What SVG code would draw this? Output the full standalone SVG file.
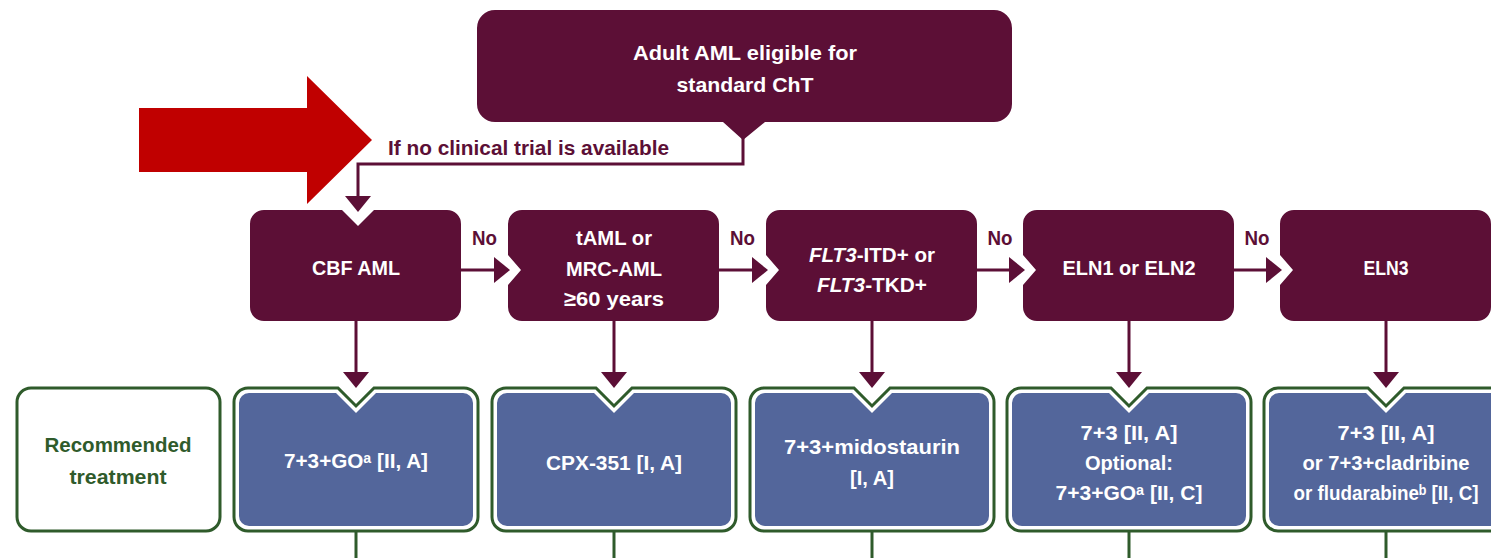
<svg xmlns="http://www.w3.org/2000/svg" xmlns:xlink="http://www.w3.org/1999/xlink" width="1491" height="558" viewBox="0 0 1491 558">
<style>
.t{font-family:"Liberation Sans Narrow","Liberation Sans","DejaVu Sans",Arial,sans-serif;font-weight:bold;font-size:21px;text-anchor:middle}
.w{fill:#ffffff}
.m{fill:#5c0f36}
.g{fill:#2f5b2b}
.mbox{fill:#5c0f36}
.tout{fill:#ffffff;stroke:#2f5b2b;stroke-width:3}
.tin{fill:#53669b}
.conn{fill:none;stroke:#5c0f36;stroke-width:3;marker-end:url(#ah)}
.gl{stroke:#2f5b2b;stroke-width:3}
</style>
<defs>
<marker id="ah" markerUnits="userSpaceOnUse" markerWidth="16" markerHeight="26" viewBox="0 0 16 26" refX="13" refY="13" orient="auto">
<path d="M0,0 L16,13 L0,26 Z" fill="#5c0f36"/>
</marker>
<path id="chev" d="M14,210 H197 A14,14 0 0 1 211,224 V307 A14,14 0 0 1 197,321 H14 A14,14 0 0 1 0,307 V285 L13,270 L0,255 V224 A14,14 0 0 1 14,210 Z"/>
<path id="tOuter" d="M-108,388 H-18 L0,406 L18,388 H108 A14,14 0 0 1 122,402 V517 A14,14 0 0 1 108,531 H-108 A14,14 0 0 1 -122,517 V402 A14,14 0 0 1 -108,388 Z"/>
<path id="tInner" d="M-107,393 H-20 L0,413 L20,393 H107 A10,10 0 0 1 117,403 V516 A10,10 0 0 1 107,526 H-107 A10,10 0 0 1 -117,516 V403 A10,10 0 0 1 -107,393 Z"/>
</defs>
<rect width="1491" height="558" fill="#ffffff"/>

<g id="red-arrow">
<polygon points="139,108 307,108 307,76 372,140 307,204 307,172 139,172" fill="#c00000"/>
</g>

<g id="connectors">
<path class="conn" d="M743,138 V164 H358 V209"/>
<text class="t m" x="388" y="155" style="text-anchor:start" textLength="281" lengthAdjust="spacingAndGlyphs">If no clinical trial is available</text>
<line class="conn" x1="461" y1="270" x2="507" y2="270"/>
<line class="conn" x1="719" y1="270" x2="765" y2="270"/>
<line class="conn" x1="977" y1="270" x2="1022" y2="270"/>
<line class="conn" x1="1234" y1="270" x2="1279" y2="270"/>
<text class="t m" x="484.5" y="245" textLength="25" lengthAdjust="spacingAndGlyphs">No</text>
<text class="t m" x="742.5" y="245" textLength="25" lengthAdjust="spacingAndGlyphs">No</text>
<text class="t m" x="1000" y="245" textLength="25" lengthAdjust="spacingAndGlyphs">No</text>
<text class="t m" x="1257" y="245" textLength="25" lengthAdjust="spacingAndGlyphs">No</text>
<line class="conn" x1="356" y1="321" x2="356" y2="385"/>
<line class="conn" x1="614" y1="321" x2="614" y2="385"/>
<line class="conn" x1="872" y1="321" x2="872" y2="385"/>
<line class="conn" x1="1129" y1="321" x2="1129" y2="385"/>
<line class="conn" x1="1386" y1="321" x2="1386" y2="385"/>
<line class="gl" x1="356" y1="532" x2="356" y2="558"/>
<line class="gl" x1="614" y1="532" x2="614" y2="558"/>
<line class="gl" x1="872" y1="532" x2="872" y2="558"/>
<line class="gl" x1="1129" y1="532" x2="1129" y2="558"/>
<line class="gl" x1="1386" y1="532" x2="1386" y2="558"/>
</g>

<g id="start">
<path class="mbox" d="M495,10 H994 A18,18 0 0 1 1012,28 V104 A18,18 0 0 1 994,122 H765 L743,140 L723,122 H495 A18,18 0 0 1 477,104 V28 A18,18 0 0 1 495,10 Z"/>
<text class="t w" x="745" y="60" textLength="224" lengthAdjust="spacingAndGlyphs">Adult AML eligible for</text>
<text class="t w" x="745" y="92" textLength="137" lengthAdjust="spacingAndGlyphs">standard ChT</text>
</g>

<g id="cbf">
<path class="mbox" d="M264,210 H342 L358,226 L374,210 H447 A14,14 0 0 1 461,224 V307 A14,14 0 0 1 447,321 H264 A14,14 0 0 1 250,307 V224 A14,14 0 0 1 264,210 Z"/>
<text class="t w" x="356" y="275" textLength="88" lengthAdjust="spacingAndGlyphs">CBF AML</text>
</g>

<g id="taml">
<use xlink:href="#chev" class="mbox" x="508"/>
<text class="t w" x="614" y="245" textLength="76" lengthAdjust="spacingAndGlyphs">tAML or</text>
<text class="t w" x="614" y="276" textLength="96" lengthAdjust="spacingAndGlyphs">MRC-AML</text>
<text class="t w" x="614" y="306" textLength="100" lengthAdjust="spacingAndGlyphs">≥60 years</text>
</g>

<g id="flt3">
<use xlink:href="#chev" class="mbox" x="766"/>
<text class="t w" x="872" y="262" textLength="126" lengthAdjust="spacingAndGlyphs"><tspan font-style="italic">FLT3</tspan>-ITD+ or</text>
<text class="t w" x="872" y="292" textLength="110" lengthAdjust="spacingAndGlyphs"><tspan font-style="italic">FLT3</tspan>-TKD+</text>
</g>

<g id="eln12">
<use xlink:href="#chev" class="mbox" x="1023"/>
<text class="t w" x="1129" y="275" textLength="133" lengthAdjust="spacingAndGlyphs">ELN1 or ELN2</text>
</g>

<g id="eln3">
<use xlink:href="#chev" class="mbox" x="1280"/>
<text class="t w" x="1386" y="275" textLength="45" lengthAdjust="spacingAndGlyphs">ELN3</text>
</g>

<g id="label">
<rect x="17" y="388" width="203" height="143" rx="14" fill="#ffffff" stroke="#2f5b2b" stroke-width="3"/>
<text class="t g" x="118" y="452" textLength="147" lengthAdjust="spacingAndGlyphs">Recommended</text>
<text class="t g" x="118" y="484" textLength="97" lengthAdjust="spacingAndGlyphs">treatment</text>
</g>

<g id="tx1">
<use xlink:href="#tOuter" class="tout" x="356"/>
<use xlink:href="#tInner" class="tin" x="356"/>
<text class="t w" x="356" y="468" textLength="144" lengthAdjust="spacingAndGlyphs">7+3+GOᵃ [II, A]</text>
</g>

<g id="tx2">
<use xlink:href="#tOuter" class="tout" x="614"/>
<use xlink:href="#tInner" class="tin" x="614"/>
<text class="t w" x="614" y="470" textLength="136" lengthAdjust="spacingAndGlyphs">CPX-351 [I, A]</text>
</g>

<g id="tx3">
<use xlink:href="#tOuter" class="tout" x="872"/>
<use xlink:href="#tInner" class="tin" x="872"/>
<text class="t w" x="872" y="454" textLength="176" lengthAdjust="spacingAndGlyphs">7+3+midostaurin</text>
<text class="t w" x="872" y="485" textLength="44" lengthAdjust="spacingAndGlyphs">[I, A]</text>
</g>

<g id="tx4">
<use xlink:href="#tOuter" class="tout" x="1129"/>
<use xlink:href="#tInner" class="tin" x="1129"/>
<text class="t w" x="1129" y="440" textLength="97" lengthAdjust="spacingAndGlyphs">7+3 [II, A]</text>
<text class="t w" x="1129" y="470" textLength="88" lengthAdjust="spacingAndGlyphs">Optional:</text>
<text class="t w" x="1129" y="500" textLength="147" lengthAdjust="spacingAndGlyphs">7+3+GOᵃ [II, C]</text>
</g>

<g id="tx5">
<use xlink:href="#tOuter" class="tout" x="1386"/>
<use xlink:href="#tInner" class="tin" x="1386"/>
<text class="t w" x="1386" y="440" textLength="97" lengthAdjust="spacingAndGlyphs">7+3 [II, A]</text>
<text class="t w" x="1386" y="470" textLength="167" lengthAdjust="spacingAndGlyphs">or 7+3+cladribine</text>
<text class="t w" x="1386" y="500" textLength="185" lengthAdjust="spacingAndGlyphs">or fludarabineᵇ [II, C]</text>
</g>
</svg>
